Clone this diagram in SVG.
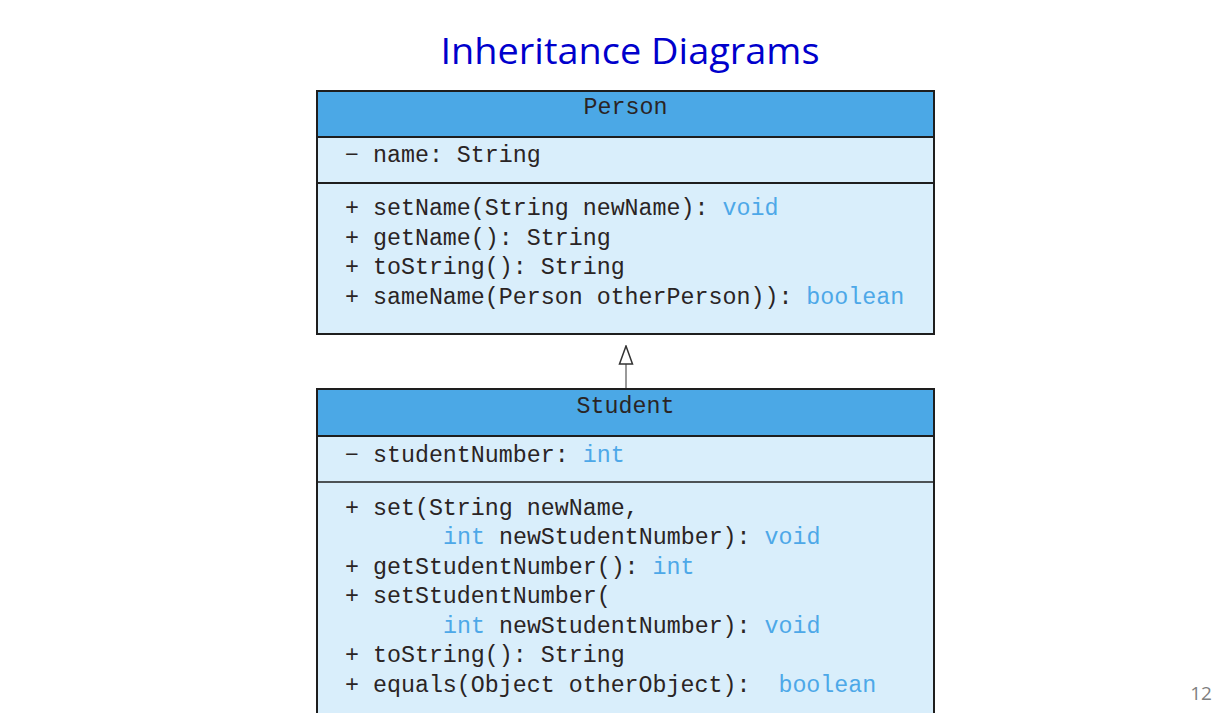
<svg xmlns="http://www.w3.org/2000/svg" width="1219" height="713" viewBox="0 0 1219 713">
<style>
.hdr{fill:#4BA8E6;stroke:none}
.cmp{fill:#D9EEFB;stroke:none}
.ln{stroke:#1E1E1E;stroke-width:2;fill:none}
.t{font-family:"Liberation Mono","Courier New",monospace;font-size:23.3px;fill:#2A2424;white-space:pre}
.b{fill:#4DA8E8}
.title{font-family:"Open Sans","Noto Sans",sans-serif;font-size:36px;fill:#0000CC}
</style>
<defs>
<marker id="tri" viewBox="0 0 20 16" refX="19" refY="8" markerWidth="20" markerHeight="16" markerUnits="userSpaceOnUse" orient="auto">
<path d="M19,8 L1,1.5 L1,14.5 Z" fill="#fff" stroke="#333" stroke-width="1.5"/>
</marker>
</defs>
<rect width="1219" height="713" fill="#fff"/>
<text class="title" x="630" y="64" text-anchor="middle" textLength="379" lengthAdjust="spacingAndGlyphs">Inheritance Diagrams</text>
<g id="Person">
<rect class="hdr" x="317" y="91" width="617" height="46"/>
<rect class="cmp" x="317" y="137" width="617" height="197"/>
<path class="ln" d="M317,91 H934 V334 H317 Z M317,137 H934 M317,183 H934"/>
<text class="t" x="625.5" y="114" text-anchor="middle">Person</text>
<text class="t" x="345" y="162">− name: String</text>
<text class="t" x="345" y="215">+ setName(String newName): <tspan class="b">void</tspan></text>
<text class="t" x="345" y="245">+ getName(): String</text>
<text class="t" x="345" y="274">+ toString(): String</text>
<text class="t" x="345" y="304">+ sameName(Person otherPerson)): <tspan class="b">boolean</tspan></text>
</g>
<g id="connectors">
<line x1="626" y1="389" x2="626" y2="346" stroke="#999" stroke-width="2" marker-end="url(#tri)"/>
</g>
<g id="Student">
<rect class="hdr" x="317" y="389" width="617" height="47"/>
<rect class="cmp" x="317" y="436" width="617" height="280"/>
<path class="ln" d="M317,716 V389 H934 V716 M317,436 H934"/>
<path d="M317,482 H934" stroke="#1E1E1E" stroke-width="1.5"/>
<text class="t" x="625.5" y="413" text-anchor="middle">Student</text>
<text class="t" x="345" y="462">− studentNumber: <tspan class="b">int</tspan></text>
<text class="t" x="345" y="515">+ set(String newName,</text>
<text class="t" x="443" y="544"><tspan class="b">int</tspan> newStudentNumber): <tspan class="b">void</tspan></text>
<text class="t" x="345" y="574">+ getStudentNumber(): <tspan class="b">int</tspan></text>
<text class="t" x="345" y="603">+ setStudentNumber(</text>
<text class="t" x="443" y="633"><tspan class="b">int</tspan> newStudentNumber): <tspan class="b">void</tspan></text>
<text class="t" x="345" y="662">+ toString(): String</text>
<text class="t" x="345" y="692">+ equals(Object otherObject):  <tspan class="b">boolean</tspan></text>
</g>
<text x="1201" y="700" text-anchor="middle" font-family="Open Sans, sans-serif" font-size="19" fill="#7F7F7F">12</text>
</svg>
